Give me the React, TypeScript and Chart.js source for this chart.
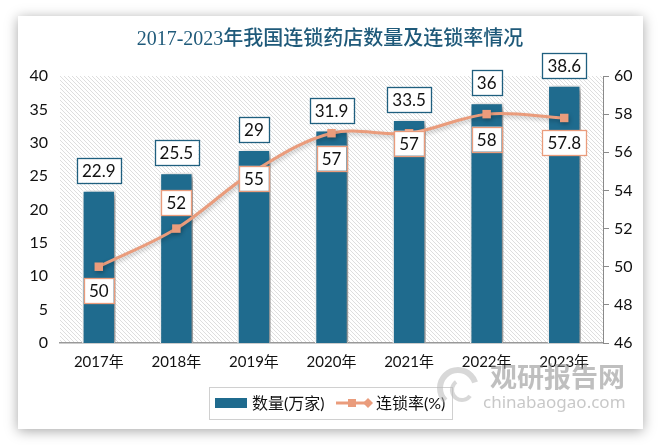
import React, { useEffect, useRef } from "react";
import { Chart, registerables } from "chart.js";

Chart.register(...registerables);

const titleText = "2017-2023年我国连锁药店数量及连锁率情况";
const categories = ["2017年", "2018年", "2019年", "2020年", "2021年", "2022年", "2023年"];
const storeCounts = [22.9, 25.5, 29, 31.9, 33.5, 36, 38.6];
const chainRates = [50, 52, 55, 57, 57, 58, 57.8];
const countLabel = "数量(万家)";
const rateLabel = "连锁率(%)";

// styling: vertical offsets of the rate labels relative to their points
const rateLabelOffsets = [24, -26, 7, 25, 10, 25, 25];

const BAR_COLOR = "#1F6B8E";
const LINE_COLOR = "#EA9C7C";
const BAR_BORDER = "#1F5F7F";
const LABEL_FONT = "17px Lato, 'Noto Sans', sans-serif";

function makeHatch(ctx: CanvasRenderingContext2D) {
  const c = document.createElement("canvas");
  c.width = 4;
  c.height = 4;
  const g = c.getContext("2d")!;
  g.fillStyle = "#ffffff";
  g.fillRect(0, 0, 4, 4);
  g.strokeStyle = "#dedede";
  g.lineWidth = 1;
  g.beginPath();
  g.moveTo(-1, -1);
  g.lineTo(5, 5);
  g.moveTo(-1, 3);
  g.lineTo(1, 5);
  g.moveTo(3, -1);
  g.lineTo(5, 1);
  g.stroke();
  return ctx.createPattern(c, "repeat");
}

function drawBox(
  ctx: CanvasRenderingContext2D,
  text: string,
  cx: number,
  cy: number,
  border: string
) {
  ctx.font = LABEL_FONT;
  const w = ctx.measureText(text).width + 10;
  const h = 25;
  ctx.fillStyle = "#ffffff";
  ctx.fillRect(cx - w / 2, cy - h / 2, w, h);
  ctx.strokeStyle = border;
  ctx.lineWidth = 1.3;
  ctx.strokeRect(Math.round(cx - w / 2) + 0.5, Math.round(cy - h / 2) + 0.5, Math.round(w), h);
  ctx.fillStyle = "#111111";
  ctx.textAlign = "center";
  ctx.textBaseline = "middle";
  ctx.fillText(text, cx, cy + 1);
}

const decor = {
  id: "decor",
  beforeDraw(chart: any) {
    const { ctx, chartArea: a } = chart;
    ctx.save();
    const p = makeHatch(ctx);
    if (p) ctx.fillStyle = p;
    ctx.fillRect(a.left, a.top, a.right - a.left, a.bottom - a.top);
    ctx.restore();
  },
  beforeDatasetDraw(chart: any, args: any) {
    const ctx = chart.ctx;
    ctx.save();
    if (args.meta.type === "bar") {
      ctx.shadowColor = "rgba(0,0,0,0.5)";
      ctx.shadowBlur = 6;
      ctx.shadowOffsetX = 3;
      ctx.shadowOffsetY = 2;
    } else {
      ctx.shadowColor = "rgba(0,0,0,0.25)";
      ctx.shadowBlur = 4;
      ctx.shadowOffsetX = 1;
      ctx.shadowOffsetY = 2;
    }
  },
  afterDatasetDraw(chart: any) {
    chart.ctx.restore();
  },
  afterDatasetsDraw(chart: any) {
    const ctx = chart.ctx;
    ctx.save();
    const barMeta = chart.getDatasetMeta(0);
    barMeta.data.forEach((el: any, i: number) => {
      drawBox(ctx, String(storeCounts[i]), el.x, el.y - 20, BAR_BORDER);
    });
    const lineMeta = chart.getDatasetMeta(1);
    lineMeta.data.forEach((el: any, i: number) => {
      drawBox(ctx, String(chainRates[i]), el.x, el.y + rateLabelOffsets[i], LINE_COLOR);
    });
    ctx.restore();
  },
  afterDraw(chart: any) {
    const ctx = chart.ctx;
    ctx.save();
    // title
    ctx.fillStyle = "#1F5A7A";
    ctx.font = "500 20px 'Liberation Serif', 'Noto Sans CJK SC', serif";
    ctx.textAlign = "center";
    ctx.textBaseline = "middle";
    ctx.fillText(titleText, 330, 40);

    // legend
    ctx.strokeStyle = "#d0d0d0";
    ctx.lineWidth = 1;
    ctx.strokeRect(209.5, 387.5, 243, 32);
    ctx.fillStyle = BAR_COLOR;
    ctx.fillRect(215, 398, 32, 10);
    ctx.font = "16px Lato, 'Noto Sans CJK SC', sans-serif";
    ctx.fillStyle = "#111111";
    ctx.textAlign = "left";
    ctx.fillText(countLabel, 252, 404);
    ctx.strokeStyle = LINE_COLOR;
    ctx.lineWidth = 3;
    ctx.beginPath();
    ctx.moveTo(336, 403);
    ctx.lineTo(368, 403);
    ctx.stroke();
    ctx.fillStyle = LINE_COLOR;
    ctx.fillRect(348, 399, 8, 8);
    ctx.beginPath();
    ctx.moveTo(368, 398);
    ctx.lineTo(373, 403);
    ctx.lineTo(368, 408);
    ctx.lineTo(363, 403);
    ctx.closePath();
    ctx.fill();
    ctx.fillStyle = "#111111";
    ctx.fillText(rateLabel, 376, 404);

    // watermark
    ctx.globalAlpha = 0.55;
    ctx.strokeStyle = "#b8b8b8";
    ctx.lineWidth = 6;
    ctx.beginPath();
    ctx.arc(458, 388, 18, Math.PI * 0.75, Math.PI * 1.9);
    ctx.stroke();
    ctx.lineWidth = 4;
    ctx.beginPath();
    ctx.arc(462, 390, 10, Math.PI * 0.2, Math.PI * 1.3);
    ctx.stroke();
    ctx.fillStyle = "#8a8a8a";
    ctx.font = "bold 27px 'Noto Sans CJK SC', sans-serif";
    ctx.textAlign = "left";
    ctx.fillText("观研报告网", 490, 377);
    ctx.font = "17px 'Noto Sans', sans-serif";
    ctx.fillStyle = "#9a9a9a";
    ctx.fillText("chinabaogao.com", 483, 403);
    ctx.restore();
  },
};

export default function App() {
  const ref = useRef<HTMLCanvasElement>(null);
  useEffect(() => {
    if (!ref.current) return;
    const chart = new Chart(ref.current, {
      type: "bar",
      data: {
        labels: categories,
        datasets: [
          {
            type: "bar",
            label: countLabel,
            data: storeCounts,
            backgroundColor: BAR_COLOR,
            borderColor: "#ffffff",
            borderWidth: 1.5,
            barPercentage: 0.43,
            categoryPercentage: 1,
            yAxisID: "y",
            order: 2,
          },
          {
            type: "line",
            label: rateLabel,
            data: chainRates,
            borderColor: LINE_COLOR,
            backgroundColor: LINE_COLOR,
            borderWidth: 3,
            tension: 0.35,
            pointStyle: "rect",
            pointRadius: 6,
            pointBorderWidth: 0,
            yAxisID: "y1",
            order: 1,
          } as any,
        ],
      },
      options: {
        responsive: false,
        maintainAspectRatio: false,
        devicePixelRatio: 1,
        animation: false,
        layout: { padding: { left: 0, right: 0, top: 76, bottom: 72 } },
        plugins: {
          legend: { display: false },
          tooltip: { enabled: false },
          title: { display: false },
        },
        scales: {
          x: {
            grid: { drawOnChartArea: false, drawTicks: false },
            border: { display: true, color: "#999999", width: 1.5 },
            ticks: {
              color: "#111111",
              padding: 10,
              font: { family: "Lato, 'Noto Sans CJK SC', sans-serif", size: 15 },
            },
            afterFit: (s: any) => {
              s.height = 30;
            },
          },
          y: {
            position: "left",
            min: 0,
            max: 40,
            ticks: {
              stepSize: 5,
              color: "#111111",
              padding: 12,
              font: { family: "Lato, sans-serif", size: 16 },
            },
            grid: { display: false, drawTicks: false },
            border: { display: false },
            afterFit: (s: any) => {
              s.width = 60;
            },
          },
          y1: {
            position: "right",
            min: 46,
            max: 60,
            ticks: {
              stepSize: 2,
              color: "#111111",
              padding: 5,
              font: { family: "Lato, sans-serif", size: 16 },
            },
            grid: { drawOnChartArea: false, drawTicks: true, tickLength: 6, color: "#8a8a8a" },
            border: { display: true, color: "#8a8a8a", width: 1 },
            afterFit: (s: any) => {
              s.width = 58;
            },
          },
        },
      },
      plugins: [decor],
    });
    return () => chart.destroy();
  }, []);

  return (
    <div style={{ position: "absolute", left: 0, top: 0, width: 661, height: 445, background: "#ffffff", overflow: "hidden" }}>
      <div
        style={{
          position: "absolute",
          left: 18,
          top: 16,
          width: 625,
          height: 413,
          background: "#ffffff",
          boxShadow: "0 2px 12px rgba(0,0,0,0.35)",
        }}
      />
      <canvas ref={ref} width={661} height={445} style={{ position: "absolute", left: 0, top: 0, width: 661, height: 445 }} />
    </div>
  );
}
